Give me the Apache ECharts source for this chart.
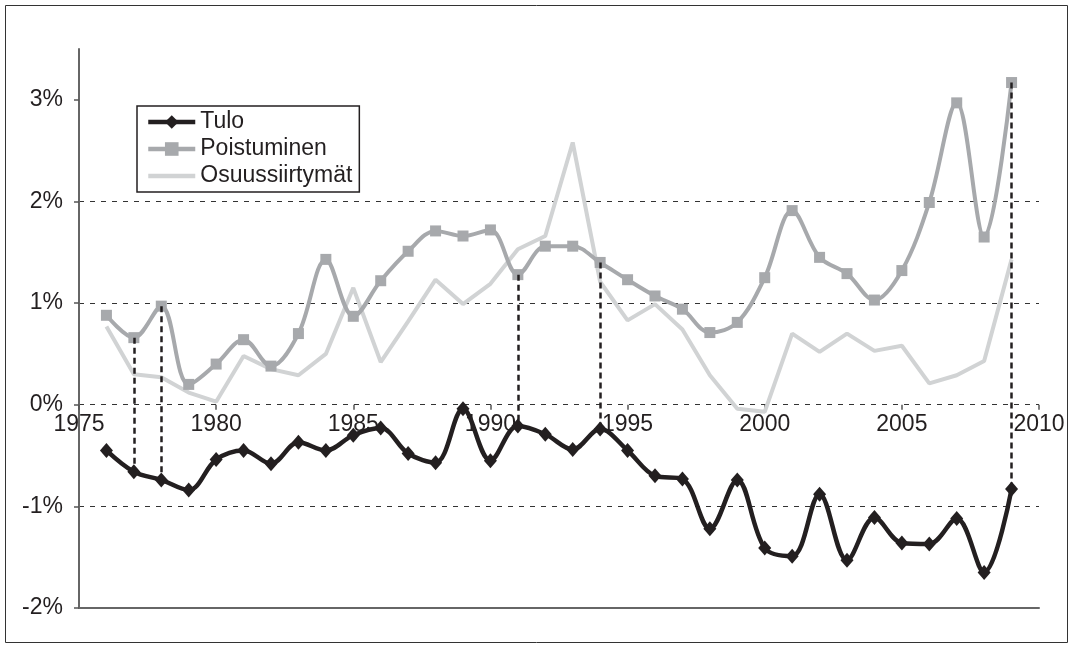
<!DOCTYPE html>
<html>
<head>
<meta charset="utf-8">
<script src="https://cdn.jsdelivr.net/npm/echarts@6/dist/echarts.min.js"></script>
<style>
  html, body { margin: 0; padding: 0; background: #fff; }
  #main { width: 1073px; height: 648px; }
</style>
</head>
<body>
<div id="main"></div>
<script>
var years = [1976, 1977, 1978, 1979, 1980, 1981, 1982, 1983, 1984, 1985,
  1986, 1987, 1988, 1989, 1990, 1991, 1992, 1993, 1994, 1995,
  1996, 1997, 1998, 1999, 2000, 2001, 2002, 2003, 2004, 2005,
  2006, 2007, 2008, 2009];

var tulo = [-0.45, -0.66, -0.74, -0.84, -0.54, -0.45, -0.58, -0.37, -0.45, -0.30,
  -0.23, -0.48, -0.57, -0.04, -0.55, -0.21, -0.29, -0.44, -0.24, -0.45,
  -0.70, -0.73, -1.22, -0.74, -1.41, -1.49, -0.88, -1.53, -1.11, -1.36,
  -1.37, -1.12, -1.65, -0.83];

var poistuminen = [0.88, 0.66, 0.97, 0.20, 0.40, 0.64, 0.38, 0.70, 1.43, 0.87,
  1.22, 1.51, 1.71, 1.66, 1.72, 1.28, 1.56, 1.56, 1.40, 1.23,
  1.07, 0.94, 0.71, 0.81, 1.25, 1.91, 1.45, 1.29, 1.03, 1.32,
  1.99, 2.97, 1.65, 3.17];

var osuussiirtymat = [0.77, 0.30, 0.27, 0.12, 0.03, 0.48, 0.35, 0.29, 0.50, 1.15,
  0.42, 0.82, 1.23, 0.99, 1.19, 1.53, 1.66, 2.58, 1.21, 0.83,
  0.99, 0.74, 0.29, -0.04, -0.07, 0.70, 0.52, 0.70, 0.53, 0.58,
  0.21, 0.29, 0.43, 1.43];

// years with a dashed drop line from Poistuminen down to Tulo
var dropYears = [1977, 1978, 1991, 1994, 2009];

var yTicks = [-2, -1, 0, 1, 2, 3];
var yMin = -2, yMax = 3.5;

var FONT = "'Liberation Sans', Arial, sans-serif";
var INK = '#231f20';

function pairs(vals) {
  return years.map(function (y, i) { return [y, vals[i]]; });
}

var drops = dropYears.map(function (y) {
  var i = years.indexOf(y);
  return [{ coord: [y, poistuminen[i]] }, { coord: [y, tulo[i]] }];
});

var chart = echarts.init(document.getElementById('main'), null, { renderer: 'canvas' });

var H = 648, gTop = 49, gBottom = 40;
// the year axis sits on the 0% line: a third grid whose bottom edge is there
var zeroY = gTop + (yMax - 0) / (yMax - yMin) * (H - gTop - gBottom);

var option = {
  backgroundColor: '#fff',
  animation: false,
  textStyle: { fontFamily: FONT },
  graphic: [{
    type: 'rect',
    shape: { x: 5.5, y: 5.5, width: 1062, height: 637 },
    style: { fill: 'none', stroke: '#333', lineWidth: 1 },
    silent: true
  }],
  grid: [
    { left: 79, right: 34, top: gTop, bottom: gBottom },
    { left: 79, right: 34, top: gTop, bottom: H - zeroY }
  ],
  legend: {
    data: [
      'Tulo',
      'Poistuminen',
      { name: 'Osuussiirtymät', icon: 'path://M0,0h47v4.5h-47z' }
    ],
    orient: 'vertical',
    left: 137,
    top: 106,
    itemWidth: 47,
    itemHeight: 17,
    itemGap: 1,
    padding: [3, 7, 3, 9],
    borderColor: INK,
    borderWidth: 1.5,
    backgroundColor: '#fff',
    lineStyle: { width: 4.5 },
    textStyle: { fontSize: 23, color: INK, lineHeight: 26, fontFamily: FONT }
  },
  xAxis: [
    {
      type: 'value',
      gridIndex: 0,
      min: 1975,
      max: 2010,
      position: 'bottom',
      axisLine: { show: true, onZero: false, lineStyle: { color: '#666', width: 2 } },
      axisTick: { show: false },
      axisLabel: { show: false },
      splitLine: { show: false }
    },
    {
      type: 'value',
      gridIndex: 1,
      min: 1975,
      max: 2010,
      interval: 5,
      position: 'bottom',
      axisLine: { show: false, onZero: false },
      axisTick: { show: true, length: 5, lineStyle: { color: '#555', width: 1.5 } },
      axisLabel: {
        fontSize: 23, color: INK, margin: 8, fontFamily: FONT,
        formatter: function (v) { return String(v); }
      },
      splitLine: { show: false }
    }
  ],
  yAxis: [
    {
      type: 'value',
      gridIndex: 0,
      min: yMin,
      max: yMax,
      interval: 1,
      axisLine: { show: true, lineStyle: { color: '#666', width: 2 } },
      axisTick: { show: true, length: 5, customValues: yTicks, lineStyle: { color: '#555', width: 1.5 } },
      axisLabel: {
        fontSize: 23, color: INK, margin: 16, fontFamily: FONT,
        customValues: yTicks,
        formatter: function (v) { return v + '%'; }
      },
      splitLine: {
        show: true,
        showMaxLine: false,
        lineStyle: { color: '#333', width: 1, type: [5, 6] }
      }
    },
    {
      type: 'value',
      gridIndex: 1,
      min: 0,
      max: yMax,
      show: false
    }
  ],
  series: [
    {
      name: 'Osuussiirtymät',
      type: 'line',
      data: pairs(osuussiirtymat),
      symbol: 'none',
      lineStyle: { color: '#d1d3d4', width: 4 },
      itemStyle: { color: '#d1d3d4' },
      z: 2
    },
    {
      name: 'Poistuminen',
      type: 'line',
      data: pairs(poistuminen),
      smooth: 0.35,
      symbol: 'rect',
      symbolSize: 11,
      lineStyle: { color: '#a7a9ac', width: 4 },
      itemStyle: { color: '#a7a9ac' },
      z: 3
    },
    {
      name: 'Tulo',
      type: 'line',
      data: pairs(tulo),
      smooth: 0.35,
      symbol: 'diamond',
      symbolSize: [13, 15],
      lineStyle: { color: INK, width: 4.5 },
      itemStyle: { color: INK },
      z: 4,
      markLine: {
        silent: true,
        symbol: ['none', 'none'],
        label: { show: false },
        lineStyle: { color: INK, width: 2.5, type: [6, 4] },
        data: drops
      }
    }
  ]
};

chart.setOption(option);
</script>
</body>
</html>
